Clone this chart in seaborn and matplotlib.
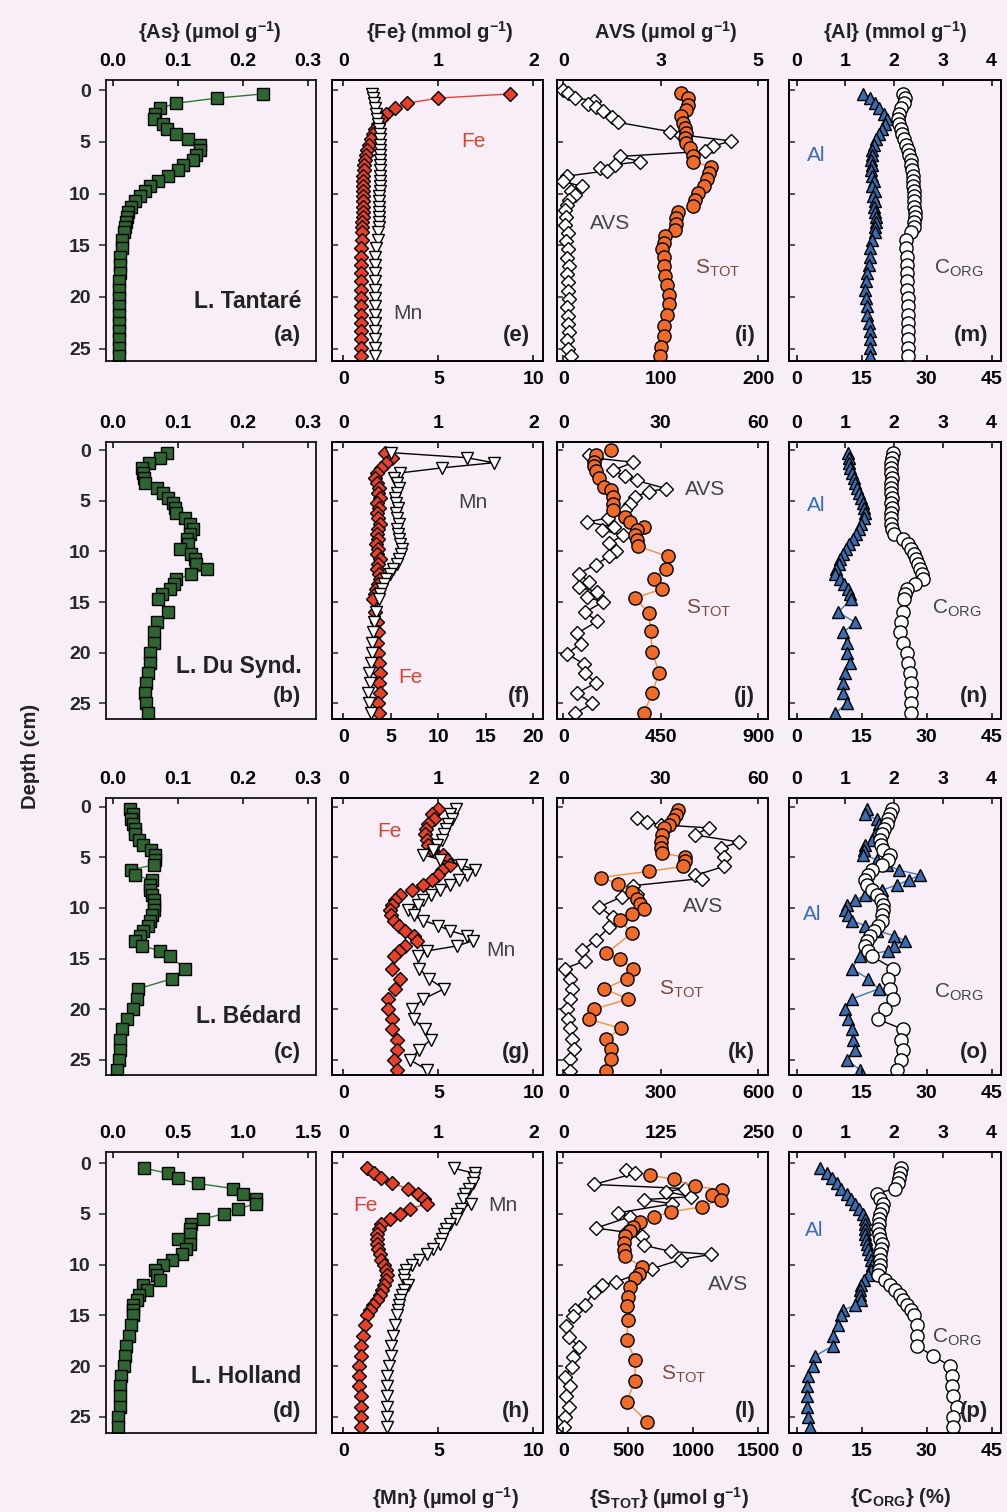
import matplotlib
matplotlib.use("Agg")
import matplotlib.pyplot as plt
import seaborn as sns

sns.set_theme(style="ticks")
plt.rcParams["font.family"] = ["Liberation Sans", "DejaVu Sans"]
plt.rcParams["mathtext.fontset"] = "custom"
plt.rcParams["mathtext.rm"] = "Liberation Sans"
plt.rcParams["mathtext.it"] = "Liberation Sans:italic"
plt.rcParams["mathtext.bf"] = "Liberation Sans:bold"

# ---------------------------------------------------------------- data
# Depth grids (cm) of the solid-phase slices
z_tan = [0.35, 0.75, 1.25, 1.75, 2.25, 2.75, 3.25, 3.75, 4.25, 4.75,
         5.25, 5.75, 6.25, 6.75, 7.25, 7.75, 8.25, 8.75, 9.25, 9.75,
         10.25, 10.75, 11.25, 11.75, 12.25, 12.75, 13.25, 13.75,
         14.5, 15.3, 16.1, 16.9, 17.7, 18.5, 19.3, 20.1, 20.9, 21.7,
         22.5, 23.3, 24.1, 24.9, 25.7]
z_dus = [0.25, 0.75, 1.25, 1.75, 2.25, 2.75, 3.25, 3.75, 4.25, 4.75,
         5.25, 5.75, 6.25, 6.75, 7.25, 7.75, 8.25, 8.75, 9.25, 9.75,
         10.25, 10.75, 11.25, 11.75, 12.25, 12.75, 13.25, 13.75, 14.25, 14.75,
         16, 17, 18, 19, 20, 21, 22, 23, 24, 25, 26]
z_bed = [0.25, 0.75, 1.25, 1.75, 2.25, 2.75, 3.25, 3.75, 4.25, 4.75,
         5.25, 5.75, 6.25, 6.75, 7.25, 7.75, 8.25, 8.75, 9.25, 9.75,
         10.25, 10.75, 11.25, 11.75, 12.25, 12.75, 13.25, 13.75, 14.25, 14.75,
         16, 17, 18, 19, 20, 21, 22, 23, 24, 25, 26]
z_hol = [0.5, 1.0, 1.5, 2.0, 2.5, 3.0, 3.5, 4.0, 4.5, 5.0,
         5.5, 6.0, 6.5, 7.0, 7.5, 8.0, 8.5, 9.0, 9.5, 10.0,
         10.5, 11.0, 11.5, 12.0, 12.5, 13.0, 13.5, 14.0, 14.5, 15.0,
         16, 17, 18, 19, 20, 21, 22, 23, 24, 25, 26]

# {As} (umol/g)
as_tan = [0.230, 0.160, 0.097, 0.072, 0.064, 0.063, 0.077, 0.082, 0.097, 0.115,
          0.133, 0.134, 0.128, 0.123, 0.108, 0.100, 0.085, 0.069, 0.056, 0.049,
          0.041, 0.033, 0.028, 0.023, 0.021, 0.019, 0.018, 0.016,
          0.014, 0.013, 0.011, 0.010, 0.010, 0.009, 0.009, 0.009, 0.009, 0.009,
          0.009, 0.009, 0.009, 0.009, 0.009]
as_dus = [0.083, 0.072, 0.055, 0.044, 0.046, 0.047, 0.049, 0.068, 0.077, 0.085,
          0.092, 0.095, 0.097, 0.110, 0.118, 0.123, 0.118, 0.113, 0.115, 0.103,
          0.120, 0.126, 0.128, 0.144, 0.120, 0.097, 0.093, 0.087, 0.075, 0.069,
          0.085, 0.067, 0.062, 0.062, 0.056, 0.056, 0.054, 0.051, 0.049, 0.051, 0.054]
as_bed = [0.026, 0.031, 0.028, 0.030, 0.033, 0.033, 0.040, 0.046, 0.058, 0.064,
          0.064, 0.062, 0.028, 0.033, 0.059, 0.056, 0.056, 0.059, 0.062, 0.062,
          0.062, 0.059, 0.056, 0.054, 0.046, 0.041, 0.033, 0.045, 0.072, 0.087,
          0.110, 0.090, 0.038, 0.036, 0.031, 0.021, 0.013, 0.010, 0.010, 0.009, 0.006]
as_hol = [0.24, 0.42, 0.50, 0.65, 0.92, 1.00, 1.10, 1.10, 0.96, 0.85,
          0.69, 0.60, 0.59, 0.59, 0.50, 0.59, 0.56, 0.53, 0.45, 0.38,
          0.32, 0.34, 0.36, 0.23, 0.26, 0.20, 0.18, 0.15, 0.15, 0.15,
          0.14, 0.12, 0.10, 0.09, 0.08, 0.06, 0.05, 0.05, 0.05, 0.04, 0.04]

# {Fe} (mmol/g)
fe_tan = [1.75, 1.00, 0.67, 0.54, 0.45, 0.40, 0.36, 0.33, 0.31, 0.29,
          0.27, 0.25, 0.24, 0.23, 0.22, 0.22, 0.21, 0.21, 0.21, 0.21,
          0.21, 0.21, 0.21, 0.21, 0.21, 0.20, 0.20, 0.20,
          0.20, 0.19, 0.18, 0.18, 0.18, 0.18, 0.18, 0.18, 0.18, 0.18,
          0.18, 0.18, 0.18, 0.18, 0.18]
fe_dus = [0.44, 0.51, 0.45, 0.40, 0.35, 0.33, 0.35, 0.37, 0.36, 0.38,
          0.35, 0.37, 0.35, 0.36, 0.38, 0.36, 0.35, 0.36, 0.34, 0.36,
          0.35, 0.38, 0.36, 0.35, 0.37, 0.38, 0.36, 0.34, 0.33, 0.31,
          0.33, 0.35, 0.36, 0.35, 0.36, 0.37, 0.39, 0.37, 0.38, 0.36, 0.37]
fe_bed = [1.00, 0.93, 0.95, 0.89, 0.87, 0.86, 0.88, 0.89, 0.93, 1.05,
          1.09, 1.12, 1.04, 1.00, 0.93, 0.84, 0.72, 0.60, 0.54, 0.51,
          0.49, 0.50, 0.53, 0.58, 0.65, 0.74, 0.77, 0.65, 0.58, 0.53,
          0.51, 0.60, 0.54, 0.47, 0.47, 0.51, 0.51, 0.56, 0.56, 0.53, 0.56]
fe_hol = [0.25, 0.32, 0.40, 0.51, 0.68, 0.79, 0.85, 0.88, 0.70, 0.60,
          0.49, 0.40, 0.37, 0.35, 0.35, 0.35, 0.36, 0.38, 0.40, 0.43,
          0.45, 0.46, 0.45, 0.43, 0.41, 0.38, 0.35, 0.31, 0.28, 0.25,
          0.23, 0.21, 0.19, 0.18, 0.16, 0.16, 0.16, 0.18, 0.18, 0.18, 0.19]

# {Mn} (umol/g)
mn_tan = [1.50, 1.55, 1.60, 1.65, 1.70, 1.75, 1.80, 1.85, 1.90, 1.92,
          1.93, 1.93, 1.94, 1.93, 1.95, 1.93, 1.92, 1.93, 1.91, 1.90,
          1.88, 1.89, 1.88, 1.87, 1.88, 1.86, 1.86, 1.84,
          1.80, 1.72, 1.68, 1.66, 1.65, 1.64, 1.65, 1.65, 1.66, 1.66,
          1.67, 1.67, 1.68, 1.68, 1.68]
mn_dus = [5.0, 13.0, 15.8, 10.4, 6.0, 5.3, 5.6, 5.8, 5.6, 5.4,
          5.5, 5.7, 5.5, 5.6, 5.8, 5.6, 5.7, 5.9, 6.0, 6.2,
          6.1, 5.9, 5.6, 5.2, 4.9, 4.5, 4.3, 4.1, 3.9, 3.7,
          3.4, 3.2, 3.1, 3.0, 3.0, 2.9, 2.7, 2.8, 2.6, 2.7, 2.9]
mn_bed = [5.9, 5.6, 5.7, 5.5, 5.4, 5.3, 5.2, 4.9, 4.7, 4.2,
          5.1, 6.2, 6.9, 6.5, 6.1, 5.6, 5.1, 4.6, 4.2, 3.9,
          3.4, 3.7, 4.2, 5.0, 5.6, 6.5, 6.8, 6.0, 4.4, 3.9,
          4.0, 4.5, 5.3, 4.2, 3.6, 3.7, 4.3, 4.6, 4.0, 3.5, 4.4]
mn_hol = [5.8, 6.9, 6.85, 6.8, 6.6, 6.4, 6.3, 6.7, 6.2, 6.0,
          5.9, 5.6, 5.4, 5.3, 5.2, 5.1, 4.7, 4.4, 4.0, 3.6,
          3.3, 3.2, 3.2, 3.4, 3.2, 3.1, 3.0, 2.9, 2.85, 2.8,
          2.7, 2.6, 2.5, 2.5, 2.4, 2.3, 2.3, 2.3, 2.3, 2.3, 2.3]

# {Al} (mmol/g)
al_tan = [1.37, 1.50, 1.60, 1.70, 1.80, 1.85, 1.82, 1.75, 1.68, 1.62,
          1.58, 1.55, 1.55, 1.52, 1.55, 1.52, 1.55, 1.58, 1.55, 1.60,
          1.57, 1.60, 1.58, 1.60, 1.62, 1.63, 1.60, 1.60,
          1.55, 1.50, 1.50, 1.48, 1.45, 1.42, 1.40, 1.42, 1.45, 1.45,
          1.48, 1.50, 1.50, 1.50, 1.50]
al_dus = [1.06, 1.07, 1.08, 1.10, 1.13, 1.17, 1.20, 1.24, 1.28, 1.32,
          1.36, 1.39, 1.41, 1.38, 1.33, 1.28, 1.22, 1.16, 1.08, 1.02,
          0.96, 0.90, 0.86, 0.80, 0.78, 0.90, 0.97, 1.05, 1.10, 1.12,
          0.85, 1.20, 0.96, 1.03, 1.03, 1.09, 1.00, 0.96, 0.96, 1.03, 0.79]
al_bed = [1.45, 1.40, 1.64, 1.70, 1.71, 1.60, 1.55, 1.40, 1.38, 1.37,
          1.65, 1.85, 2.09, 2.53, 2.30, 2.05, 1.75, 1.40, 1.20, 1.03,
          1.00, 1.05, 1.13, 1.40, 1.65, 2.00, 2.22, 2.00, 1.88, 1.30,
          1.13, 1.47, 1.68, 1.13, 0.99, 1.06, 1.13, 1.15, 1.20, 1.03, 1.30]
al_hol = [0.48, 0.62, 0.72, 0.83, 0.92, 1.03, 1.12, 1.20, 1.28, 1.36,
          1.40, 1.40, 1.40, 1.40, 1.42, 1.45, 1.47, 1.50, 1.52, 1.54,
          1.52, 1.47, 1.38, 1.33, 1.30, 1.30, 1.33, 1.20, 0.96, 0.92,
          0.85, 0.75, 0.75, 0.38, 0.34, 0.24, 0.21, 0.21, 0.21, 0.24, 0.27]

# {C_ORG} (%)
corg_tan = [24.6, 25.0, 24.8, 24.2, 23.6, 23.4, 23.6, 24.0, 24.4, 24.8,
            25.3, 25.7, 26.0, 26.3, 26.5, 26.7, 26.8, 26.9, 26.9, 27.0,
            27.0, 27.1, 27.2, 27.3, 27.3, 27.2, 27.0, 26.5,
            25.2, 25.2, 25.4, 25.4, 25.4, 25.5, 25.5, 25.6, 25.6, 25.6,
            25.7, 25.7, 25.8, 25.8, 25.8]
corg_dus = [22.3, 22.0, 21.8, 21.7, 21.8, 21.9, 21.8, 21.7, 21.8, 21.9,
            21.8, 21.9, 21.8, 21.7, 21.8, 21.9, 22.5, 24.6, 25.8, 26.5,
            27.0, 27.5, 28.0, 28.5, 29.0, 29.2, 27.3, 25.4, 25.0, 24.8,
            24.6, 24.2, 23.8, 24.6, 25.4, 25.8, 26.2, 26.5, 26.5, 26.5, 26.5]
corg_bed = [21.9, 21.5, 21.2, 20.8, 20.2, 19.6, 19.2, 19.4, 20.0, 21.5,
            21.2, 19.6, 17.5, 16.5, 15.8, 16.2, 17.3, 18.5, 19.5, 20.0,
            20.0, 19.8, 19.6, 18.8, 17.8, 16.9, 16.2, 15.8, 16.5, 17.3,
            22.3, 21.2, 21.5, 22.3, 20.5, 18.8, 24.6, 24.2, 24.6, 24.2, 23.1]
corg_hol = [24.2, 23.9, 23.6, 23.3, 22.7, 18.5, 19.2, 20.0, 19.6, 19.2,
            19.0, 18.9, 18.8, 19.1, 19.3, 19.6, 19.4, 19.2, 19.2, 19.2,
            19.0, 18.8, 20.4, 21.5, 22.7, 23.8, 24.6, 25.5, 26.4, 27.0,
            27.7, 27.7, 27.7, 31.5, 35.4, 35.8, 35.8, 36.2, 36.9, 36.2, 36.2]

# AVS (umol/g) with its own depth grids
z_avs_tan = [0.0, 0.3, 0.75, 1.0, 1.3, 1.6, 2.0, 2.6, 3.1, 4.0,
             4.3, 4.9, 5.4, 5.9, 6.4, 6.9, 7.2, 7.5, 7.8, 8.3,
             8.8, 9.3, 9.7, 10.1, 10.6, 11.1, 11.6, 12.3, 13.0, 13.8,
             14.6, 15.4, 16.2, 17.0, 17.8, 18.6, 19.4, 20.2, 21.0, 21.8,
             22.6, 23.4, 24.2, 25.0, 25.7]
avs_tan = [0.0, 0.13, 0.30, 0.80, 0.64, 0.85, 1.03, 1.24, 1.41, 2.74,
           3.03, 4.30, 3.85, 3.63, 1.45, 1.97, 1.32, 0.94, 1.11, 0.09,
           0.0, 0.47, 0.21, 0.30, 0.15, 0.10, 0.05, 0.08, 0.04, 0.11,
           0.07, 0.13, 0.10, 0.14, 0.09, 0.12, 0.11, 0.15, 0.09, 0.13,
           0.11, 0.14, 0.10, 0.13, 0.20]
z_avs_dus = [0.5, 0.8, 1.2, 2.0, 2.6, 3.0, 3.8, 4.1, 4.6, 5.3,
             5.9, 6.7, 7.1, 7.6, 7.9, 8.4, 9.2, 10.0, 10.5, 11.3,
             12.2, 13.0, 13.5, 14.0, 14.5, 15.0, 16.0, 16.9, 18.1, 19.1,
             20.1, 21.1, 22.0, 23.0, 24.0, 25.0, 26.0]
avs_dus = [7.9, 10.0, 21.6, 15.3, 18.9, 22.6, 31.6, 26.3, 22.1, 20.5,
           19.0, 13.7, 7.4, 15.5, 12.0, 18.4, 14.2, 16.3, 14.0, 10.0,
           4.7, 7.9, 4.7, 10.5, 7.4, 12.1, 6.8, 10.5, 4.2, 5.5,
           1.1, 6.3, 6.8, 10.0, 4.2, 8.9, 3.7]
z_avs_bed = [1.1, 1.5, 1.8, 2.1, 2.8, 3.5, 4.1, 5.0, 5.9, 6.8,
             7.1, 7.8, 8.6, 8.9, 9.9, 10.9, 11.9, 13.2, 14.2, 15.2,
             16.0, 17.0, 18.0, 19.0, 20.0, 21.0, 21.9, 22.9, 23.9, 24.9, 26.1]
avs_bed = [22.6, 25.8, 30.0, 44.7, 40.5, 54.2, 48.4, 49.5, 49.5, 40.5,
           42.6, 21.6, 22.6, 18.0, 11.1, 15.3, 14.2, 10.0, 5.8, 6.8,
           0.5, 2.1, 2.6, 2.1, 1.1, 1.6, 2.1, 2.6, 3.2, 2.1, 2.1]
z_avs_hol = [0.7, 1.0, 2.1, 2.5, 2.8, 3.3, 3.6, 4.0, 4.9, 5.3,
             6.4, 6.8, 7.2, 8.1, 8.7, 9.0, 9.5, 10.4, 11.7, 12.0,
             12.7, 14.0, 14.5, 15.1, 16.1, 17.1, 18.1, 19.1, 20.1, 21.1,
             22.0, 23.0, 24.0, 25.0, 26.0]
avs_hol = [81, 92, 39, 156, 132, 164, 103, 140, 70, 85,
           42, 80, 101, 103, 138, 189, 151, 114, 68, 50,
           39, 28, 15, 13, 4, 7, 20, 13, 11, 2,
           9, 4, 7, 2, 1]

# S_TOT (umol/g) with its own depth grids
z_st_tan = [0.25, 0.75, 1.4, 1.9, 2.5, 3.2, 3.6, 4.1, 4.6, 5.1,
            5.6, 6.4, 6.9, 7.4, 8.0, 8.6, 9.3, 9.9, 10.6, 11.2,
            11.8, 12.4, 12.9, 13.5, 14.1, 14.8, 15.4, 16.1, 17.0, 18.0,
            18.8, 19.8, 20.7, 21.7, 22.8, 23.8, 24.8, 25.7]
st_tan = [121, 128, 128, 126, 121, 123, 125, 126, 125, 126,
          130, 133, 133, 152, 150, 147, 144, 138, 135, 133,
          118, 116, 116, 115, 104, 103, 101, 103, 103, 104,
          106, 108, 108, 106, 103, 103, 100, 99]
z_st_dus = [0.0, 0.5, 1.2, 1.6, 2.1, 2.8, 3.6, 3.9, 4.6, 5.3,
            5.9, 6.6, 7.1, 7.6, 7.9, 8.4, 8.9, 9.5, 10.5, 11.7,
            12.7, 13.7, 14.6, 16.1, 17.9, 19.9, 22.0, 24.0, 26.0]
st_dus = [221, 150, 142, 142, 150, 166, 189, 221, 229, 229,
          229, 284, 308, 371, 339, 332, 339, 347, 482, 474,
          418, 458, 332, 395, 403, 411, 442, 411, 371]
z_st_bed = [0.3, 0.8, 1.3, 1.8, 2.1, 2.8, 3.5, 4.1, 4.6, 5.0,
            5.4, 5.9, 6.4, 7.0, 7.6, 8.4, 9.1, 9.6, 10.1, 10.6,
            11.2, 12.5, 14.5, 15.0, 16.0, 17.0, 18.0, 19.0, 20.0, 21.0,
            21.9, 22.9, 23.9, 24.9, 26.1]
st_bed = [353, 347, 337, 326, 311, 305, 300, 300, 305, 374,
          374, 368, 263, 116, 168, 211, 226, 237, 247, 211,
          174, 211, 132, 174, 216, 195, 126, 200, 95, 79,
          179, 132, 147, 147, 132]
z_st_hol = [1.2, 1.6, 2.3, 2.6, 3.1, 3.6, 4.3, 4.8, 5.3, 5.8,
            6.3, 6.7, 7.2, 7.9, 8.6, 9.2, 10.2, 10.9, 11.3, 12.2,
            13.2, 14.1, 15.5, 17.4, 19.4, 21.5, 23.5, 25.5]
st_hol = [671, 855, 1013, 1224, 1145, 1211, 1066, 829, 697, 592,
          539, 513, 474, 466, 466, 474, 605, 579, 553, 513,
          500, 487, 500, 487, 553, 553, 487, 645]

lakes = ["L. Tantaré", "L. Du Synd.", "L. Bédard", "L. Holland"]
letters = ["abcd", "efgh", "ijkl", "mnop"]

# axis ranges / ticks per lake
as_ticks = [[0, 0.1, 0.2, 0.3]] * 3 + [[0, 0.5, 1.0, 1.5]]
as_labels = [["0.0", "0.1", "0.2", "0.3"]] * 3 + [["0.0", "0.5", "1.0", "1.5"]]
mn_ticks = [[0, 5, 10], [0, 5, 10, 15, 20], [0, 5, 10], [0, 5, 10]]
avs_ticks = [[0, 2.5, 5], [0, 30, 60], [0, 30, 60], [0, 125, 250]]
avs_labels = [["0", "3", "5"], ["0", "30", "60"], ["0", "30", "60"], ["0", "125", "250"]]
st_ticks = [[0, 100, 200], [0, 450, 900], [0, 300, 600], [0, 500, 1000, 1500]]
fe_ticks = [0, 1, 2]
al_ticks = [0, 1, 2, 3, 4]
corg_ticks = [0, 15, 30, 45]
depth_ticks = [0, 5, 10, 15, 20, 25]

# ---------------------------------------------------------------- styling
BG = "#f7eef7"
W, H = 1007, 1512
rows_px = [(80, 361), (442, 719), (798, 1075), (1152, 1433)]
cols_px = [(106, 316), (332, 543), (557, 768), (789, 1001)]
col_pad = [(-0.037, 1.04), (-0.06, 1.05), (-0.032, 1.05), (-0.039, 1.048)]
row_ylim = [(26.2, -1.0), (26.55, -0.8), (26.5, -0.85), (26.6, -1.1)]

STY = {
    "As":   dict(marker="s", ms=8.0, mfc="#2d6630", line="#2f7a33"),
    "Fe":   dict(marker="D", ms=7.3, mfc="#e8402a", line="#f0402c"),
    "Mn":   dict(marker="v", ms=9.0, mfc="white", line="black"),
    "AVS":  dict(marker="D", ms=7.3, mfc="white", line="black"),
    "S":    dict(marker="o", ms=9.5, mfc="#f06a2a", line="#f39038"),
    "Al":   dict(marker="^", ms=8.5, mfc="#3a6db0", line="#3a78c0"),
    "C":    dict(marker="o", ms=9.5, mfc="white", line="black"),
}

TICK_FS = 14
fig = plt.figure(figsize=(W / 100, H / 100), dpi=100, facecolor=BG)


def rect(r, c):
    x0, x1 = cols_px[c]
    y0, y1 = rows_px[r]
    return [x0 / W, 1 - y1 / H, (x1 - x0) / W, (y1 - y0) / H]


def profile(ax, vals, depth, key):
    s = STY[key]
    sns.lineplot(x=vals, y=depth, ax=ax, sort=False, estimator=None,
                 color=s["line"], linewidth=1.0, marker=s["marker"],
                 markersize=s["ms"], markerfacecolor=s["mfc"],
                 markeredgecolor="black", markeredgewidth=1.0, legend=False)
    ax.set_xlabel("")
    ax.set_ylabel("")


def set_x(ax, ticks, labels, rng, c, where):
    lo, hi = col_pad[c]
    ax.set_xlim(lo * rng, hi * rng)
    ax.set_xticks(ticks, labels=labels, fontweight="bold", fontsize=TICK_FS)
    if where == "top":
        ax.xaxis.set_ticks_position("top")
        ax.tick_params(axis="x", direction="in", length=4, width=1.1,
                       top=True, bottom=False, labeltop=True,
                       labelbottom=False, pad=7, colors="black")
    else:
        ax.xaxis.set_ticks_position("bottom")
        ax.tick_params(axis="x", direction="in", length=4, width=1.1,
                       bottom=True, top=False, labelbottom=True,
                       labeltop=False, pad=7, colors="black")


def frame(ax):
    for sp in ax.spines.values():
        sp.set_visible(True)
        sp.set_color("black")
        sp.set_linewidth(1.2)


def lbl(ax, x, y, text, color, size=15, weight="normal", ha="center"):
    ax.text(x, y, text, transform=ax.transAxes, color=color, fontsize=size,
            fontweight=weight, ha=ha, va="center", zorder=10)


series = [
    (as_tan, fe_tan, mn_tan, avs_tan, st_tan, al_tan, corg_tan, z_tan, z_avs_tan, z_st_tan),
    (as_dus, fe_dus, mn_dus, avs_dus, st_dus, al_dus, corg_dus, z_dus, z_avs_dus, z_st_dus),
    (as_bed, fe_bed, mn_bed, avs_bed, st_bed, al_bed, corg_bed, z_bed, z_avs_bed, z_st_bed),
    (as_hol, fe_hol, mn_hol, avs_hol, st_hol, al_hol, corg_hol, z_hol, z_avs_hol, z_st_hol),
]

# label placements (axes fractions) per row: Fe, Mn, AVS, S_TOT, Al, C_ORG
label_pos = [
    dict(Fe=(0.67, 0.78), Mn=(0.36, 0.17), AVS=(0.25, 0.49), S=(0.76, 0.33), Al=(0.13, 0.73), C=(0.80, 0.33)),
    dict(Fe=(0.37, 0.15), Mn=(0.67, 0.78), AVS=(0.70, 0.83), S=(0.72, 0.40), Al=(0.13, 0.77), C=(0.79, 0.40)),
    dict(Fe=(0.27, 0.88), Mn=(0.80, 0.45), AVS=(0.69, 0.61), S=(0.59, 0.31), Al=(0.11, 0.58), C=(0.80, 0.30)),
    dict(Fe=(0.16, 0.81), Mn=(0.81, 0.81), AVS=(0.81, 0.53), S=(0.60, 0.21), Al=(0.12, 0.72), C=(0.79, 0.34)),
]
lake_y = [(0.21, 0.09), (0.19, 0.08), (0.21, 0.08), (0.20, 0.075)]

for r in range(4):
    (v_as, v_fe, v_mn, v_avs, v_st, v_al, v_c, zz, z_avs, z_st) = series[r]
    pos = label_pos[r]

    # column 1: arsenic
    ax = fig.add_axes(rect(r, 0), facecolor=BG)
    profile(ax, v_as, zz, "As")
    set_x(ax, as_ticks[r], as_labels[r], as_ticks[r][-1], 0, "top")
    ax.set_ylim(*row_ylim[r])
    ax.set_yticks(depth_ticks, labels=[str(t) for t in depth_ticks],
                  fontweight="bold", fontsize=TICK_FS)
    ax.tick_params(axis="y", direction="out", length=5, width=1.1,
                   left=True, right=False, labelleft=True, pad=6)
    frame(ax)
    lbl(ax, 0.93, lake_y[r][0], lakes[r], "#222222", size=16.5, weight="bold", ha="right")
    lbl(ax, 0.93, lake_y[r][1], f"({letters[0][r]})", "#222222", size=16, weight="bold", ha="right")

    panels = [
        (v_fe, zz, "Fe", fe_ticks, [str(t) for t in fe_ticks], 2,
         v_mn, zz, "Mn", mn_ticks[r], [str(t) for t in mn_ticks[r]], mn_ticks[r][-1]),
        (v_avs, z_avs, "AVS", avs_ticks[r], avs_labels[r], avs_ticks[r][-1],
         v_st, z_st, "S", st_ticks[r], [str(t) for t in st_ticks[r]], st_ticks[r][-1]),
        (v_al, zz, "Al", al_ticks, [str(t) for t in al_ticks], 4,
         v_c, zz, "C", corg_ticks, [str(t) for t in corg_ticks], 45),
    ]
    for c, (tv, tz, tkey, tt, tl, trng, bv, bz, bkey, bt, bl, brng) in enumerate(panels, start=1):
        ax = fig.add_axes(rect(r, c), facecolor=BG)
        axb = ax.twiny()
        profile(ax, tv, tz, tkey)
        profile(axb, bv, bz, bkey)
        set_x(ax, tt, tl, trng, c, "top")
        set_x(axb, bt, bl, brng, c, "bottom")
        ax.set_ylim(*row_ylim[r])
        ax.set_yticks(depth_ticks)
        ax.tick_params(axis="y", direction="in", length=4, width=1.1,
                       left=True, right=False, labelleft=False)
        frame(ax)
        frame(axb)
        lbl(axb, 0.94, lake_y[r][1], f"({letters[c][r]})", "#222222", size=16, weight="bold", ha="right")

        if c == 1:
            lbl(axb, *pos["Fe"], "Fe", "#e0402f")
            lbl(axb, *pos["Mn"], "Mn", "#444444")
        elif c == 2:
            lbl(axb, *pos["AVS"], "AVS", "#444444")
            lbl(axb, *pos["S"], r"S$_{\mathrm{TOT}}$", "#7a4a40")
        else:
            lbl(axb, *pos["Al"], "Al", "#3a6db5")
            lbl(axb, *pos["C"], r"C$_{\mathrm{ORG}}$", "#444444")

# column titles and bottom axis titles
top_titles = [(0.2085, r"{As} (µmol g$^{\mathbf{-1}}$)"),
              (0.437, r"{Fe} (mmol g$^{\mathbf{-1}}$)"),
              (0.661, r"AVS (µmol g$^{\mathbf{-1}}$)"),
              (0.889, r"{Al} (mmol g$^{\mathbf{-1}}$)")]
for x, t in top_titles:
    fig.text(x, 0.979, t, ha="center", va="center", fontsize=14.5,
             fontweight="bold", color="#222222")

bottom_titles = [(0.442, r"{Mn} (µmol g$^{\mathbf{-1}}$)"),
                 (0.664, r"{S$_{\mathbf{TOT}}$} (µmol g$^{\mathbf{-1}}$)"),
                 (0.894, r"{C$_{\mathbf{ORG}}$} (%)")]
for x, t in bottom_titles:
    fig.text(x, 0.0095, t, ha="center", va="center", fontsize=14.5,
             fontweight="bold", color="#222222")

fig.text(0.03, 0.5, "Depth (cm)", rotation=90, ha="center", va="center",
         fontsize=14.5, fontweight="bold", color="#222222")

fig.savefig("out.png", dpi=100, facecolor=BG)
